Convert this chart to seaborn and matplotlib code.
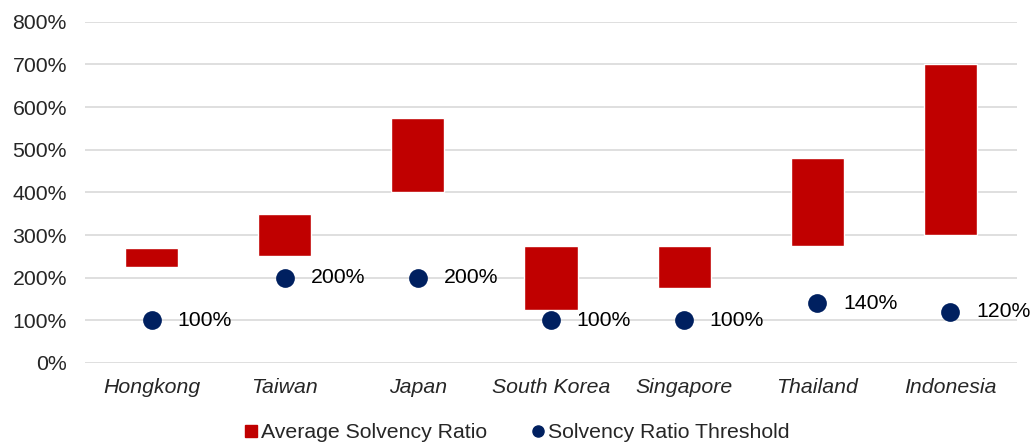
import numpy as np
import pandas as pd
import matplotlib
matplotlib.use("Agg")
import matplotlib.pyplot as plt
import seaborn as sns
from matplotlib.lines import Line2D

# data (values in %)
countries = ["Hongkong", "Taiwan", "Japan", "South Korea", "Singapore", "Thailand", "Indonesia"]
ratio_low = [225, 250, 400, 125, 175, 275, 300]
ratio_high = [270, 350, 575, 275, 275, 480, 700]
threshold = [100, 200, 200, 100, 100, 140, 120]
y_ticks = [0, 100, 200, 300, 400, 500, 600, 700, 800]

red = "#C00000"
navy = "#002060"

sns.set_theme(style="white")
plt.rcParams["font.family"] = ["Liberation Sans", "DejaVu Sans"]

df = pd.DataFrame({
    "country": countries,
    "low": ratio_low,
    "span": np.array(ratio_high) - np.array(ratio_low),
    "threshold": threshold,
})

fig = plt.figure(figsize=(10.32, 4.46), dpi=100)
ax = fig.add_axes([85 / 1032, 83 / 446, 932 / 1032, 341.3 / 446])

# floating bars: height = span, starting at low
sns.barplot(data=df, x="country", y="span", bottom=df["low"].to_numpy(),
            order=countries, color=red, saturation=1, width=0.4,
            errorbar=None, ax=ax, zorder=3)

# threshold dots
sns.stripplot(data=df, x="country", y="threshold", order=countries,
              jitter=False, color=navy, size=13.5, ax=ax, zorder=4)

fs = 15.3
for i, v in enumerate(threshold):
    ax.annotate(f"{v}%", (i, v), xytext=(18.5, 0), textcoords="offset points",
                ha="left", va="center", fontsize=fs, color="#000000")

ax.set_ylim(0, 800)
ax.set_xlim(-0.5, len(countries) - 0.5)
ax.set_yticks(y_ticks)
ax.set_yticklabels([f"{t}%" for t in y_ticks], fontsize=fs)
ax.set_xticks(range(len(countries)))
ax.set_xticklabels(countries, fontsize=fs, style="italic")
ax.tick_params(axis="y", length=0, pad=13)
ax.tick_params(axis="x", length=0, pad=11)
ax.set_xlabel("")
ax.set_ylabel("")
ax.grid(axis="y", color="#D9D9D9", linewidth=1.2, zorder=0)
ax.grid(axis="x", visible=False)
ax.set_axisbelow(True)
for s in ax.spines.values():
    s.set_visible(False)

handles = [
    Line2D([], [], marker="s", color=red, linestyle="", markersize=8),
    Line2D([], [], marker="o", color=navy, linestyle="", markersize=8),
]
fig.legend(handles, ["Average Solvency Ratio", "Solvency Ratio Threshold"],
           loc="center", bbox_to_anchor=(0.5, 0.03), ncol=2, frameon=False,
           fontsize=fs, handletextpad=0.05, columnspacing=2.0, handlelength=0.8,
           borderpad=0, borderaxespad=0)

fig.savefig("out.png", dpi=100)
